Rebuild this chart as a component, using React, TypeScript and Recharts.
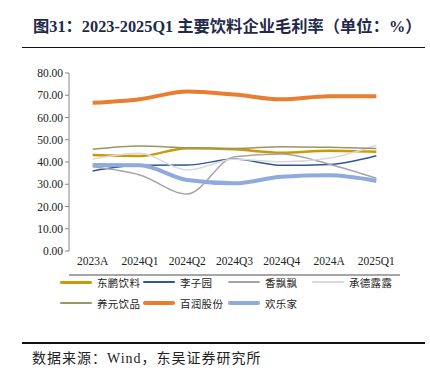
import React from "react";
import { LineChart, Line, XAxis, YAxis } from "recharts";

const categories = ["2023A", "2024Q1", "2024Q2", "2024Q3", "2024Q4", "2024A", "2025Q1"];
const dongpeng = [43.1, 42.7, 46.2, 45.7, 44.2, 45.1, 44.6];
const liziyuan = [36.0, 38.5, 38.6, 41.3, 38.5, 38.9, 42.8];
const xiangpiaopiao = [37.9, 34.2, 25.6, 42.4, 43.6, 39.0, 32.7];
const chengdelulu = [41.3, 43.9, 36.4, 41.2, 40.1, 41.7, 47.5];
const yangyuan = [45.7, 47.2, 46.4, 46.1, 46.9, 46.6, 46.1];
const bairun = [66.6, 68.2, 71.7, 70.3, 68.2, 69.6, 69.6];
const huanlejia = [38.6, 38.5, 31.9, 30.4, 33.4, 34.0, 31.5];
const yTicks = [0, 10, 20, 30, 40, 50, 60, 70, 80];

const series = [
  { key: "dongpeng", name: "东鹏饮料", values: dongpeng, color: "#C99A06", width: 2.5 },
  { key: "liziyuan", name: "李子园", values: liziyuan, color: "#2F5597", width: 1.5 },
  { key: "xiangpiaopiao", name: "香飘飘", values: xiangpiaopiao, color: "#A5A5A5", width: 1.5 },
  { key: "chengdelulu", name: "承德露露", values: chengdelulu, color: "#DADADA", width: 1.5 },
  { key: "yangyuan", name: "养元饮品", values: yangyuan, color: "#9A9466", width: 1.5 },
  { key: "bairun", name: "百润股份", values: bairun, color: "#E97D31", width: 4 },
  { key: "huanlejia", name: "欢乐家", values: huanlejia, color: "#8FAADC", width: 4 },
];

const data = categories.map((c, i) => {
  const row: Record<string, number | string> = { x: i + 0.5, cat: c };
  series.forEach((s) => {
    row[s.key] = s.values[i];
  });
  return row;
});

const serif = '"Liberation Serif", "Times New Roman", serif';
const cjk = '"Liberation Serif", "Noto Sans CJK SC", serif';

const ChartLegend = () => (
  <div style={{ position: "absolute", left: 0, top: 273, width: 430, height: 50 }}>
    {series.map((s, i) => {
      const col = i % 4;
      const row = Math.floor(i / 4);
      const lefts = [60, 143, 228, 312];
      return (
        <div
          key={s.key}
          style={{
            position: "absolute",
            left: lefts[col],
            top: row * 21,
            display: "flex",
            alignItems: "center",
            height: 18,
          }}
        >
          <div style={{ width: 32, height: s.width + 0.5, background: s.color, borderRadius: 2 }} />
          <span
            style={{
              marginLeft: 5,
              fontFamily: '"Noto Sans CJK SC", sans-serif',
              fontSize: 10.5,
              color: "#222",
              letterSpacing: 0.3,
            }}
          >
            {s.name}
          </span>
        </div>
      );
    })}
  </div>
);

export default function App() {
  return (
    <div
      style={{
        position: "absolute",
        top: 0,
        left: 0,
        width: 430,
        height: 377,
        background: "#fff",
        overflow: "hidden",
      }}
    >
      <div
        style={{
          position: "absolute",
          top: 13,
          left: 33,
          fontFamily: cjk,
          fontWeight: "bold",
          fontSize: 16.3,
          color: "#1F2A4A",
          whiteSpace: "nowrap",
        }}
      >
        图31：2023-2025Q1 主要饮料企业毛利率（单位：%）
      </div>
      <div style={{ position: "absolute", top: 47, left: 22, width: 403, height: 1, background: "#111" }} />
      <div style={{ position: "absolute", top: 0, left: 0 }}>
        <LineChart width={430} height={330} data={data} margin={{ top: 73, right: 30, left: 0, bottom: 54 }}>
          <YAxis
            type="number"
            domain={[0, 80]}
            ticks={yTicks}
            width={69}
            tickFormatter={(v: number) => v.toFixed(2)}
            tick={{ fontFamily: serif, fontSize: 11.5, fill: "#222" }}
            axisLine={{ stroke: "#888" }}
            tickLine={{ stroke: "#888" }}
            tickSize={4}
            interval={0}
          />
          <XAxis
            xAxisId="ticks"
            dataKey="x"
            type="number"
            domain={[0, 7]}
            ticks={[0, 1, 2, 3, 4, 5, 6, 7]}
            tick={false}
            axisLine={{ stroke: "#888", strokeWidth: 1.5 }}
            tickLine={{ stroke: "#666" }}
            tickSize={4}
            height={1}
          />
          <XAxis
            xAxisId="labels"
            dataKey="x"
            type="number"
            domain={[0, 7]}
            ticks={[0.5, 1.5, 2.5, 3.5, 4.5, 5.5, 6.5]}
            tickFormatter={(v: number) => categories[Math.round(v - 0.5)]}
            tick={{ fontFamily: serif, fontSize: 11.5, fill: "#222" }}
            axisLine={false}
            tickLine={false}
            tickSize={4}
            height={24}
            interval={0}
          />
          {series.map((s) => (
            <Line
              key={s.key}
              xAxisId="ticks"
              type="monotone"
              dataKey={s.key}
              name={s.name}
              stroke={s.color}
              strokeWidth={s.width}
              dot={false}
              isAnimationActive={false}
            />
          ))}
        </LineChart>
      </div>
      <ChartLegend />
      <div style={{ position: "absolute", top: 342, left: 22, width: 403, height: 1.5, background: "#111" }} />
      <div
        style={{
          position: "absolute",
          top: 347,
          left: 32,
          fontFamily: cjk,
          fontSize: 14,
          letterSpacing: 1,
          color: "#222",
          whiteSpace: "nowrap",
        }}
      >
        数据来源：Wind，东吴证券研究所
      </div>
    </div>
  );
}
